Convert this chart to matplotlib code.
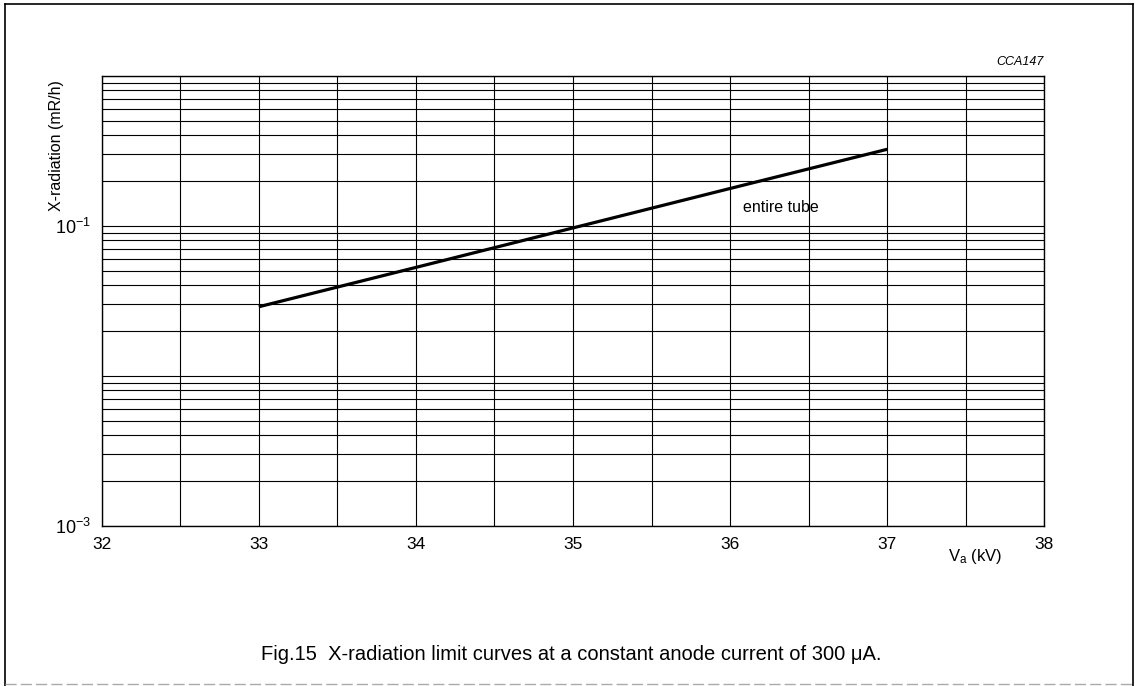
import matplotlib

matplotlib.use("Agg")
import matplotlib.pyplot as plt
from matplotlib.lines import Line2D
from matplotlib.ticker import FixedLocator, NullFormatter

plt.rcParams["font.family"] = ["Liberation Sans", "DejaVu Sans"]
plt.rcParams["mathtext.fontset"] = "custom"
plt.rcParams["mathtext.rm"] = "Liberation Sans"
plt.rcParams["mathtext.it"] = "Liberation Sans:italic"

# data
va_kv = [33, 34, 35, 36, 37]
xrad_entire = [0.0288, 0.0527, 0.0966, 0.177, 0.323]

x_ticks = [32, 33, 34, 35, 36, 37, 38]
x_grid = [32.5, 33.5, 34.5, 35.5, 36.5, 37.5]
y_decades = [1e-3, 1e-2, 1e-1, 1e0]

fig = plt.figure(figsize=(11.35, 6.86), dpi=100)
ax = fig.add_axes([0.0896, 0.2337, 0.8305, 0.656])

ax.plot(va_kv, xrad_entire, color="black", lw=2.3, solid_capstyle="butt", zorder=5)

ax.set_yscale("log")
ax.set_xlim(32, 38)
ax.set_ylim(1e-3, 1e0)

ax.set_xticks(x_ticks)
ax.set_xticklabels([str(v) for v in x_ticks], fontsize=12.5)
ax.xaxis.set_minor_locator(FixedLocator(x_grid))

minor_y = [m * d for d in y_decades[:-1] for m in range(2, 10)]
ax.yaxis.set_major_locator(FixedLocator(y_decades))
ax.yaxis.set_minor_locator(FixedLocator(minor_y))
ax.yaxis.set_minor_formatter(NullFormatter())
ax.set_yticklabels([r"$\mathregular{10^{-3}}$" if v == 1e-3 else
                    r"$\mathregular{10^{-1}}$" if v == 1e-1 else "" for v in y_decades],
                   fontsize=13)

ax.tick_params(which="both", length=0)
ax.tick_params(axis="x", pad=8)
ax.tick_params(axis="y", pad=8)
ax.grid(True, which="both", color="black", lw=0.8)
for s in ax.spines.values():
    s.set_linewidth(1.0)

ax.text(36.08, 0.133, "entire tube", fontsize=11.5, ha="left", va="center")

fig.text(57 / 1135, 1 - 146 / 686, "X-radiation (mR/h)", rotation=90,
         ha="center", va="center", fontsize=11.5)
fig.text(1044 / 1135, 1 - 62 / 686, "CCA147", style="italic",
         ha="right", va="center", fontsize=9)
fig.text(975 / 1135, 1 - 556 / 686, r"V$_\mathregular{a}$ (kV)",
         ha="center", va="center", fontsize=12)
fig.text(571 / 1135, 1 - 655 / 686,
         "Fig.15  X-radiation limit curves at a constant anode current of 300 \u03bcA.",
         ha="center", va="center", fontsize=14.5)

# page frame of the datasheet
W, H = 1135, 686
fx = lambda p: p / W
fy = lambda p: 1 - p / H
fig.add_artist(Line2D([fx(5), fx(5)], [fy(4), fy(686)], color="black", lw=1.2))
fig.add_artist(Line2D([fx(5), fx(1133)], [fy(4), fy(4)], color="black", lw=1.2))
fig.add_artist(Line2D([fx(1133), fx(1133)], [fy(4), fy(686)], color="black", lw=1.2))
fig.add_artist(Line2D([fx(5), fx(1133)], [fy(684), fy(684)], color="#aaaaaa",
                      lw=1.0, ls=(0, (8, 3))))

fig.savefig("out.png", dpi=100)
